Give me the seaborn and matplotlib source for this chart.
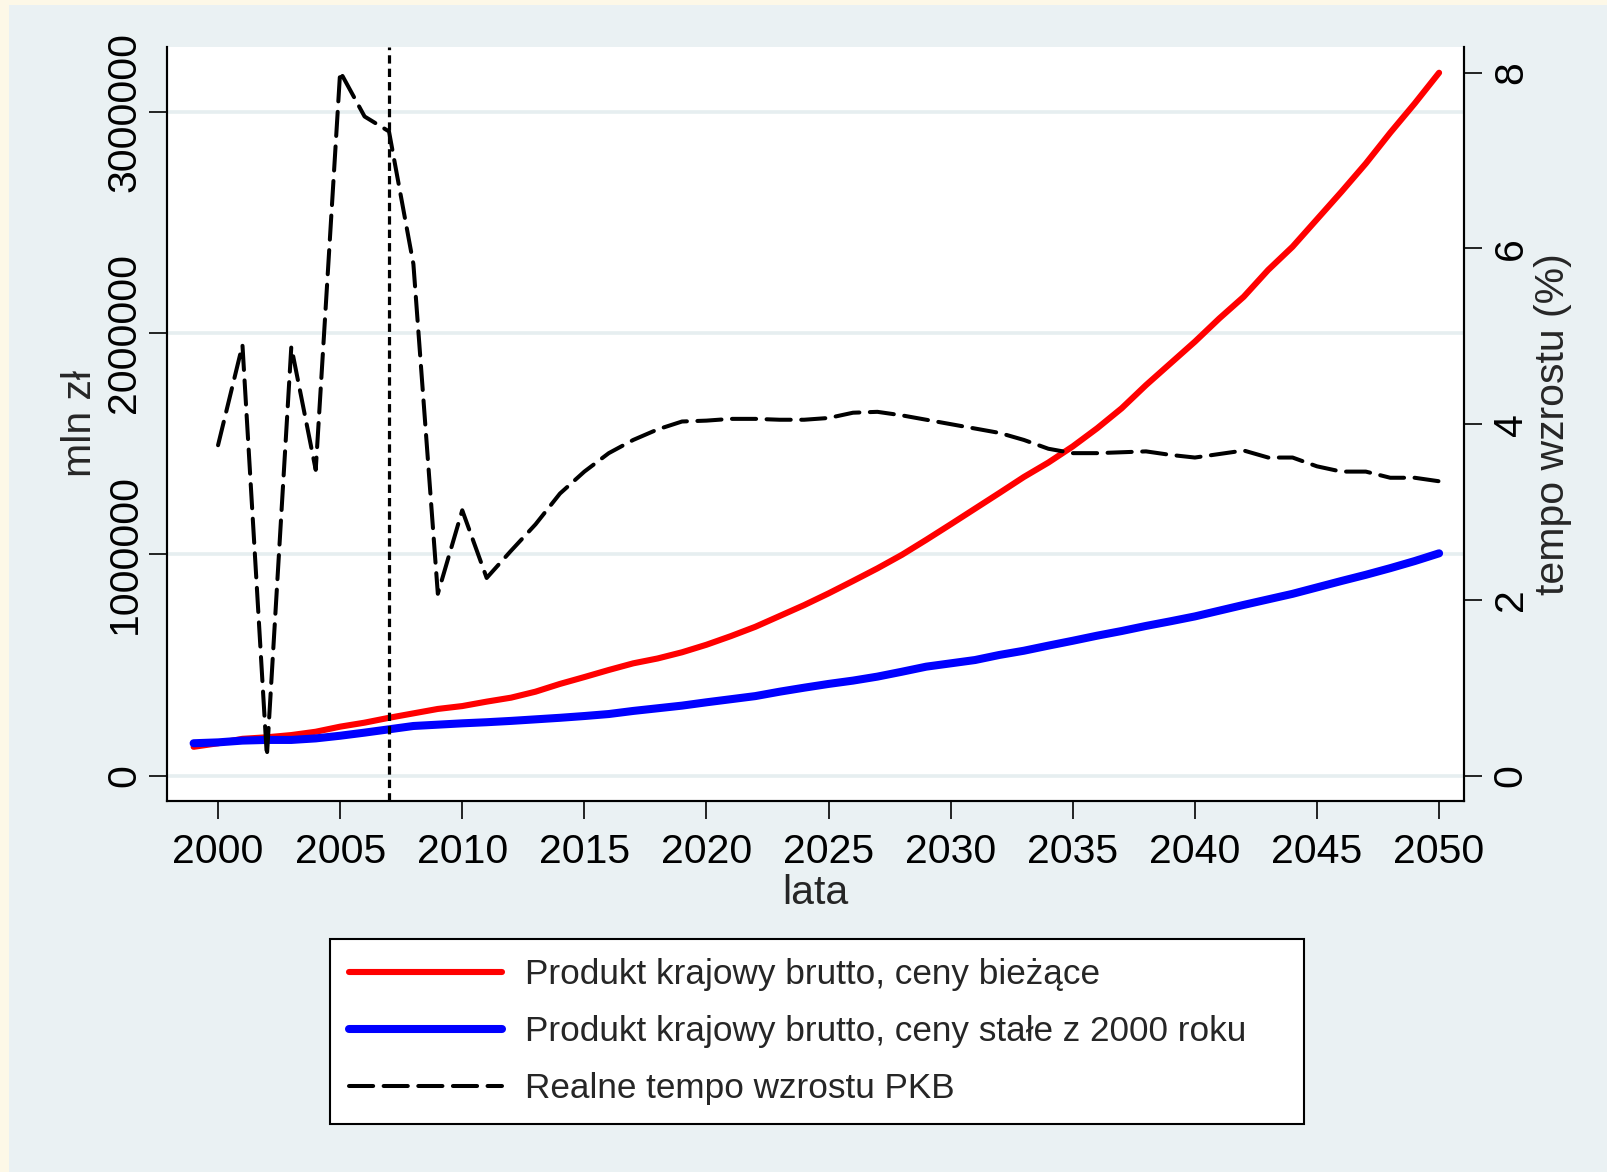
import numpy as np
import pandas as pd
import matplotlib
matplotlib.use("Agg")
import matplotlib.pyplot as plt
from matplotlib.patches import Rectangle
import seaborn as sns

# ---------------- data ----------------
years = list(range(1999, 2051))
pkb_biezace = [131000, 147000, 167000, 174000, 184000, 199000, 222000, 240000, 262000, 282000,
               302000, 315000, 335000, 353000, 380000, 415000, 446000, 478000, 508000, 530000,
               558000, 592000, 631000, 673000, 722000, 771000, 824000, 880000, 937000, 998000,
               1066000, 1136000, 1207000, 1278000, 1350000, 1415000, 1488000, 1570000, 1660000, 1765000,
               1863000, 1961000, 2066000, 2164000, 2285000, 2390000, 2514000, 2638000, 2766000, 2905000,
               3037000, 3176000]
pkb_stale = [147000, 151000, 159000, 162000, 162000, 169000, 181000, 195000, 210000, 225000,
             231000, 237000, 242000, 248000, 255000, 262000, 270000, 279000, 293000, 305000,
             317000, 332000, 346000, 360000, 380000, 398000, 415000, 430000, 448000, 470000,
             493000, 508000, 523000, 546000, 565000, 588000, 610000, 633000, 654000, 677000,
             698000, 720000, 746000, 772000, 797000, 822000, 851000, 880000, 908000, 938000,
             970000, 1005000]
years_growth = list(range(2000, 2051))
tempo = [3.76, 4.90, 0.22, 4.88, 3.48, 8.01, 7.50, 7.33, 5.82, 2.07,
         3.02, 2.25, 2.56, 2.86, 3.21, 3.46, 3.67, 3.82, 3.94, 4.03,
         4.04, 4.06, 4.06, 4.05, 4.05, 4.07, 4.13, 4.14, 4.10, 4.05,
         4.00, 3.95, 3.90, 3.82, 3.72, 3.67, 3.67, 3.68, 3.69, 3.65,
         3.62, 3.66, 3.70, 3.62, 3.62, 3.52, 3.46, 3.46, 3.39, 3.39,
         3.35]
x_ticks = list(range(2000, 2051, 5))
left_ticks = [0, 1000000, 2000000, 3000000]
right_ticks = [0, 2, 4, 6, 8]
marker_year = 2007

labels = ["Produkt krajowy brutto, ceny bieżące",
          "Produkt krajowy brutto, ceny stałe z 2000 roku",
          "Realne tempo wzrostu PKB"]

df = pd.DataFrame({"rok": years, "biezace": pkb_biezace, "stale": pkb_stale})
dg = pd.DataFrame({"rok": years_growth, "tempo": tempo})

# ---------------- style ----------------
sns.set_style("white")
plt.rcParams["font.family"] = ["Liberation Sans", "DejaVu Sans"]

BG = "#EAF1F3"
CREAM = "#FDF8E7"
GRID = "#E6EEF0"

fig = plt.figure(figsize=(16.07, 11.72), dpi=100)
fig.patch.set_facecolor(CREAM)
fig.patches.append(Rectangle((9 / 1607, 0), 1, 1 - 5 / 1172, transform=fig.transFigure,
                             facecolor=BG, edgecolor="none", zorder=-10))

ax = fig.add_axes([167 / 1607, 1 - 800.7 / 1172, (1464 - 167) / 1607, (800.7 - 46.7) / 1172])
ax.set_facecolor("white")

sns.lineplot(data=df, x="rok", y="biezace", ax=ax, color="#FF0000", linewidth=4.4,
             solid_capstyle="round", label=labels[0], legend=False)
sns.lineplot(data=df, x="rok", y="stale", ax=ax, color="#0000FF", linewidth=5.8,
             solid_capstyle="round", label=labels[1], legend=False)

ax.set_xlim(1997.91, 2051.02)
ax.set_ylim(-112500, 3293600)
ax.set_xticks(x_ticks)
ax.set_yticks(left_ticks)
ax.set_xticklabels([str(t) for t in x_ticks])
ax.set_yticklabels([str(t) for t in left_ticks])
ax.yaxis.grid(True, color=GRID, linewidth=2.6)
ax.xaxis.grid(False)
ax.set_axisbelow(True)

ax2 = ax.twinx()
sns.lineplot(data=dg, x="rok", y="tempo", ax=ax2, color="black", linewidth=2.9,
             dashes=False, label=labels[2], legend=False)
gl = ax2.get_lines()[-1]
gl.set_linestyle((0, (6.0, 2.6)))
gl.set_dash_capstyle("round")
ax2.axvline(marker_year, color="black", linewidth=2.3, linestyle=(0, (2.6, 1.6)), zorder=3)
ax2.set_ylim(-0.284, 8.294)
ax2.set_yticks(right_ticks)
ax2.set_yticklabels([str(t) for t in right_ticks])
ax2.grid(False)

for a in (ax, ax2):
    a.spines["top"].set_visible(False)
    for s in ("left", "right", "bottom"):
        a.spines[s].set_linewidth(1.5)
        a.spines[s].set_color("black")

TS = 29.5
ax.tick_params(axis="x", direction="out", length=13, width=1.2, labelsize=TS, pad=10,
               colors="black", bottom=True)
ax.tick_params(axis="y", direction="out", length=13, width=1.2, labelsize=TS, pad=4,
               labelrotation=90, colors="black", left=True)
for t in ax.get_yticklabels():
    t.set_va("center")
ax2.tick_params(axis="y", direction="out", length=13, width=1.2, labelsize=TS, pad=7,
                labelrotation=90, colors="black", right=True)
for t in ax2.get_yticklabels():
    t.set_va("center")

ax.set_xlabel("lata", fontsize=29.5, va="center")
ax.xaxis.set_label_coords(0.5, -0.1225)
ax.set_ylabel("mln zł", fontsize=29.5, va="center", ha="center")
ax.yaxis.set_label_coords(-0.0671, 0.5)
ax2.set_ylabel("tempo wzrostu (%)", fontsize=29.5, va="center", ha="center", rotation=90)
ax2.yaxis.set_label_coords(1.0690, 0.5)

handles = [ax.get_lines()[0], ax.get_lines()[1], gl]
leg = fig.legend(handles, labels, loc="center",
                 bbox_to_anchor=(330 / 1607, 1 - 1126 / 1172, 974 / 1607, 189 / 1172),
                 bbox_transform=fig.transFigure, mode="expand", fontsize=25.3,
                 frameon=True, fancybox=False, shadow=False, framealpha=1,
                 edgecolor="black", facecolor="white", borderpad=0.55,
                 labelspacing=0.68, handlelength=4.35, handletextpad=0.65,
                 borderaxespad=0)
leg.get_frame().set_linewidth(1.5)

fig.savefig("out.png", dpi=100, facecolor=fig.get_facecolor())
